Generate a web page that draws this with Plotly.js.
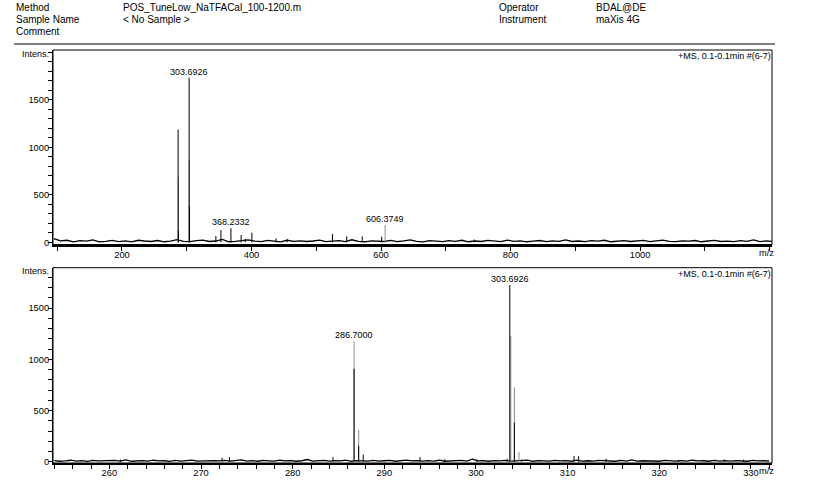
<!DOCTYPE html>
<html>
<head>
<meta charset="utf-8">
<script src="https://cdn.plot.ly/plotly-3.0.1.min.js"></script>
<style>html,body{margin:0;padding:0;background:#fff;}#chart{width:814px;height:497px;}</style>
</head>
<body>
<div id="chart"></div>
<script>
// ---------- Header text ----------
var headerLeftKeys = ["Method", "Sample Name", "Comment"];
var headerLeftVals = ["POS_TuneLow_NaTFACal_100-1200.m", "< No Sample >", ""];
var headerRightKeys = ["Operator", "Instrument"];
var headerRightVals = ["BDAL@DE", "maXis 4G"];
var scanInfo = "+MS, 0.1-0.1min #(6-7)";

// ---------- Top panel (full scan) ----------
var topRange = [93.5, 1203.7];
var topYRange = [-23, 2025];
var topTickVals = [100, 200, 300, 400, 500, 600, 700, 800, 900, 1000, 1100, 1200];
var topTickText = ["", "200", "", "400", "", "600", "", "800", "", "1000", "", ""];
var topPeakMz  = [286.70, 287.20, 303.69, 304.19, 345.0, 352.8, 368.23, 384.0, 390.5, 400.6, 438.0, 455.0, 525.0, 547.0, 571.0, 601.0, 744.0];
var topPeakInt = [1187, 120, 1734, 380, 66, 130, 148, 77, 35, 101, 42, 34, 88, 63, 63, 60, 30];
var topProfMz  = [286.95, 303.95, 606.37];
var topProfInt = [690, 870, 183];
var topNoiseStart = 95, topNoiseStep = 10;
var topNoise = [40,15,22,6,18,12,25,4,10,20, 8,16,5,22,14,9,19,6,12,28,
                10,7,17,24,9,14,30,6,11,18, 26,12,8,20,15,5,22,10,16,9,
                14,24,7,12,19,8,27,11,6,16, 13,9,21,7,15,25,10,5,18,12,
                8,17,11,22,6,14,9,20,13,7, 24,10,16,6,12,19,8,15,11,26,
                9,14,7,18,12,22,6,13,17,9, 11,20,8,15,24,10,7,16,12,19,
                6,14,21,9,13,8,18,11,25,7, 15,10];
var topLabelMz  = [303.69, 368.23, 606.37];
var topLabelInt = [1734, 148, 183];
var topLabelTxt = ["303.6926", "368.2332", "606.3749"];

// ---------- Bottom panel (zoom) ----------
var botRange = [253.85, 332.3];
var botYRange = [-12, 1895];
var botTickVals = [254,256,258,260,262,264,266,268,270,272,274,276,278,280,282,284,286,288,290,292,294,296,298,300,302,304,306,308,310,312,314,316,318,320,322,324,326,328,330,332];
var botTickText = ["","","","260","","","","","270","","","","","280","","","","","290","","","","","300","","","","","310","","","","","320","","","","","330",""];
var botPeakMz  = [261.2, 272.3, 273.1, 284.4, 286.70, 287.20, 287.70, 293.9, 296.6, 300.1, 303.4, 303.69, 304.19, 305.0, 310.7, 311.2, 314.2, 322.1, 327.1, 329.2];
var botPeakInt = [22, 40, 45, 45, 908, 157, 70, 45, 25, 22, 30, 1725, 383, 20, 55, 55, 30, 18, 22, 20];
var botProfMz  = [286.70, 287.20, 303.80, 304.19, 304.69];
var botProfInt = [1175, 310, 1230, 727, 93];
var botNoiseStart = 254.0, botNoiseStep = 0.6;
var botNoise = [12,5,9,15,6,11,4,14,8,10, 6,13,7,18,5,9,12,6,15,8,
                10,4,13,7,11,16,6,9,5,12, 8,14,6,10,19,7,11,5,13,9,
                6,15,8,12,5,10,22,7,9,13, 6,11,8,16,5,12,9,7,14,6,
                10,13,5,9,17,8,11,6,12,7, 15,5,10,8,13,6,25,9,11,5,
                12,8,14,6,10,7,16,5,11,9, 6,13,8,12,5,15,7,10,6,14,
                9,11,5,13,7,18,6,10,8,12, 5,14,9,7,11,6,15,8,10,5,
                13,7,11,6,12,9,5,14,8,10,6];
var botLabelMz  = [286.70, 303.69];
var botLabelInt = [1175, 1725];
var botLabelTxt = ["286.7000", "303.6926"];

var yTickVals = [0,100,200,300,400,500,600,700,800,900,1000,1100,1200,1300,1400,1500,1600,1700,1800,1900,2000];
var yTickText = ["0","","","","","500","","","","","1000","","","","","1500","","","","",""];

// ---------- helpers ----------
function sticks(mz, inten) {
  var x = [], y = [];
  for (var i = 0; i < mz.length; i++) { x.push(mz[i], mz[i], null); y.push(0, inten[i], null); }
  return {x: x, y: y};
}
function noiseLine(start, step, vals) {
  var x = [];
  for (var i = 0; i < vals.length; i++) x.push(start + i * step);
  return {x: x, y: vals};
}

var tProf = sticks(topProfMz, topProfInt), tPk = sticks(topPeakMz, topPeakInt), tN = noiseLine(topNoiseStart, topNoiseStep, topNoise);
var bProf = sticks(botProfMz, botProfInt), bPk = sticks(botPeakMz, botPeakInt), bN = noiseLine(botNoiseStart, botNoiseStep, botNoise);

var grey = "#8c8c8c";
var traces = [
  {x: tN.x, y: tN.y, xaxis: "x", yaxis: "y", mode: "lines", line: {color: "#000", width: 1.3}, hoverinfo: "skip"},
  {x: tProf.x, y: tProf.y, xaxis: "x", yaxis: "y", mode: "lines", line: {color: grey, width: 1}, hoverinfo: "skip"},
  {x: tPk.x, y: tPk.y, xaxis: "x", yaxis: "y", mode: "lines", line: {color: "#000", width: 1}, hoverinfo: "skip"},
  {x: bN.x, y: bN.y, xaxis: "x2", yaxis: "y2", mode: "lines", line: {color: "#000", width: 1.3}, hoverinfo: "skip"},
  {x: bProf.x, y: bProf.y, xaxis: "x2", yaxis: "y2", mode: "lines", line: {color: grey, width: 1}, hoverinfo: "skip"},
  {x: bPk.x, y: bPk.y, xaxis: "x2", yaxis: "y2", mode: "lines", line: {color: "#000", width: 1}, hoverinfo: "skip"}
];

var FONT = "Liberation Sans, Arial, sans-serif";
var L = 53, R = 42, T = 50, B = 34, W = 814, H = 497;
var pw = W - L - R, ph = H - T - B;
function px2x(px) { return (px - L) / pw; }
function py2y(py) { return (H - B - py) / ph; }

var annotations = [];
for (var i = 0; i < headerLeftKeys.length; i++) {
  var yy = py2y(7 + i * 12.5);
  annotations.push({xref: "paper", yref: "paper", x: px2x(14), y: yy, xanchor: "left", yanchor: "middle", text: headerLeftKeys[i], showarrow: false, font: {size: 10, family: FONT, color: "#000"}});
  if (headerLeftVals[i]) annotations.push({xref: "paper", yref: "paper", x: px2x(121), y: yy, xanchor: "left", yanchor: "middle", text: headerLeftVals[i].replace(/</g, "&lt;").replace(/>/g, "&gt;"), showarrow: false, font: {size: 10, family: FONT, color: "#000"}});
}
for (var j = 0; j < headerRightKeys.length; j++) {
  var yy2 = py2y(7 + j * 12.5);
  annotations.push({xref: "paper", yref: "paper", x: px2x(497), y: yy2, xanchor: "left", yanchor: "middle", text: headerRightKeys[j], showarrow: false, font: {size: 10, family: FONT, color: "#000"}});
  annotations.push({xref: "paper", yref: "paper", x: px2x(594), y: yy2, xanchor: "left", yanchor: "middle", text: headerRightVals[j], showarrow: false, font: {size: 10, family: FONT, color: "#000"}});
}
[["x", "y"], ["x2", "y2"]].forEach(function (ax) {
  annotations.push({xref: ax[0] + " domain", yref: ax[1] + " domain", x: 1, y: 1, xanchor: "right", yanchor: "top", xshift: 1, yshift: 1, text: scanInfo, showarrow: false, font: {size: 9, family: FONT, color: "#000"}});
  annotations.push({xref: ax[0] + " domain", yref: ax[1] + " domain", x: 0, y: 1, xanchor: "right", yanchor: "middle", xshift: -2, yshift: -3.5, text: "Intens.", showarrow: false, font: {size: 9, family: FONT, color: "#000"}});
  annotations.push({xref: ax[0] + " domain", yref: ax[1] + " domain", x: 1, y: 0, xanchor: "right", yanchor: "top", xshift: 3.5, yshift: -1, text: "m/z", showarrow: false, font: {size: 9.3, family: FONT, color: "#000"}});
});
for (var k = 0; k < topLabelMz.length; k++)
  annotations.push({xref: "x", yref: "y", x: topLabelMz[k], y: topLabelInt[k], xanchor: "center", yanchor: "bottom", yshift: -1, text: topLabelTxt[k], showarrow: false, font: {size: 9, family: FONT, color: "#000"}});
for (var m = 0; m < botLabelMz.length; m++)
  annotations.push({xref: "x2", yref: "y2", x: botLabelMz[m], y: botLabelInt[m], xanchor: "center", yanchor: "bottom", yshift: -1, text: botLabelTxt[m], showarrow: false, font: {size: 9, family: FONT, color: "#000"}});

var shapes = [
  {type: "line", xref: "paper", yref: "paper", x0: px2x(14), x1: px2x(775), y0: py2y(44), y1: py2y(44), line: {color: "#000", width: 1}},
  {type: "rect", xref: "x domain", yref: "y domain", x0: 0, x1: 1, y0: 0, y1: 1, line: {color: "#000", width: 1}},
  {type: "rect", xref: "x2 domain", yref: "y2 domain", x0: 0, x1: 1, y0: 0, y1: 1, line: {color: "#000", width: 1}}
];

function xAxis(range, tv, tt, anchor) {
  return {range: range, anchor: anchor, domain: [0, 1], showgrid: false, zeroline: false, showline: true, linecolor: "#000", linewidth: 2,
          ticks: "outside", ticklen: 4, tickcolor: "#000", tickwidth: 1, tickmode: "array", tickvals: tv, ticktext: tt,
          ticklabelstandoff: -4,
          tickfont: {size: 9.3, family: FONT, color: "#000"}, fixedrange: true};
}
function yAxis(range, domain, anchor) {
  return {range: range, domain: domain, anchor: anchor, showgrid: false, zeroline: false, showline: true, linecolor: "#000", linewidth: 1,
          ticks: "outside", ticklen: 4, tickcolor: "#000", tickwidth: 1, tickmode: "array", tickvals: yTickVals, ticktext: yTickText,
          ticklabelstandoff: -3,
          tickfont: {size: 9.3, family: FONT, color: "#000"}, fixedrange: true};
}

var layout = {
  width: W, height: H,
  margin: {l: L, r: R, t: T, b: B, pad: 0},
  paper_bgcolor: "#fff", plot_bgcolor: "#fff",
  showlegend: false,
  font: {family: FONT, color: "#000", size: 9.3},
  xaxis: xAxis(topRange, topTickVals, topTickText, "y"),
  yaxis: yAxis(topYRange, [0.529, 1], "x"),
  xaxis2: xAxis(botRange, botTickVals, botTickText, "y2"),
  yaxis2: yAxis(botYRange, [0, 0.4729], "x2"),
  annotations: annotations,
  shapes: shapes
};

Plotly.newPlot("chart", traces, layout, {staticPlot: true, displayModeBar: false});
</script>
</body>
</html>
